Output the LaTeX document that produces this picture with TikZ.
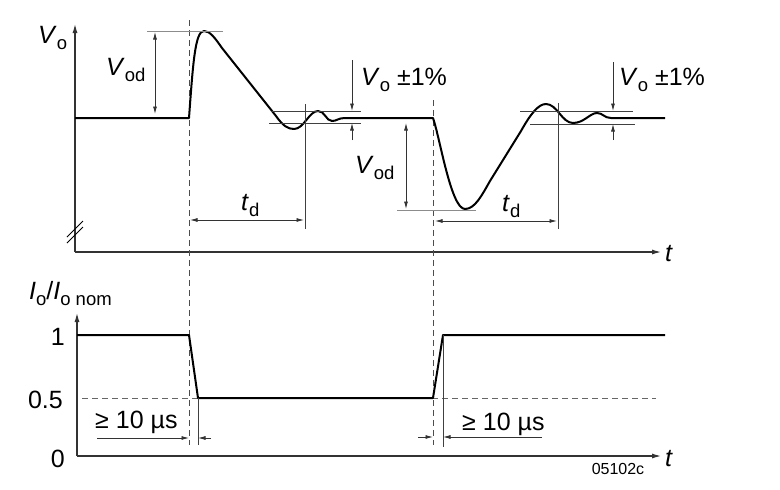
\documentclass[tikz,border=0pt]{standalone}
\usepackage{fontspec}
\setmainfont{Liberation Sans}
\usetikzlibrary{arrows.meta}
\newcommand\mysub[1]{\raisebox{-6.5pt}{\fontsize{18.5}{18}\selectfont #1}}
\begin{document}
\begin{tikzpicture}[x=1pt,y=-1pt,
  lbl/.style={inner sep=0pt,font=\fontsize{25}{28}\selectfont},
  small/.style={inner sep=0pt,font=\fontsize{16}{18}\selectfont},
  axis/.style={line width=1.1pt,draw=black!80,-{Latex[length=9pt,width=5pt]}},
  sig/.style={line width=2pt,line join=round},
  thinln/.style={line width=0.8pt,draw=black!75},
  guide/.style={line width=1pt,draw=black!45},
  dashln/.style={line width=0.9pt,draw=black!70,dash pattern=on 6pt off 4pt},
  dim/.style={line width=0.8pt,draw=black!80,{Latex[length=7.5pt,width=4pt]}-{Latex[length=7.5pt,width=4pt]}},
  oarr/.style={line width=0.8pt,draw=black!80,-{Latex[length=7.5pt,width=4pt]}}]
\useasboundingbox (0,0) rectangle (780,490);
% ===== upper plot axes
\coordinate (uo) at (75,252);
\coordinate (uy) at (75,24);
\coordinate (ux) at (661,252);
\draw[axis] (uo) -- (uy);
\draw[axis] (uo) -- (ux);
\node[lbl,anchor=base west] (vo) at (38,43) {\textit{V}\mysub{o}};
\node[lbl,anchor=base west] (tu) at (665,261) {\textit{t}};
% break marks
\draw[line width=0.9pt] (67,237) -- (83,221);
\draw[line width=0.9pt] (67,243) -- (83,227);
% dashed verticals
\draw[dashln] (189,20) -- (189,445);
\draw[dashln] (433,100) -- (433,445);
% ===== signal
\draw[sig] (75,118) -- (189,118)
  .. controls (193,64) and (195,31) .. (204,31)
  .. controls (210,31) and (215,38) .. (222,48)
  -- (276,116)
  .. controls (283,126) and (288,129) .. (294,129)
  .. controls (304,129) and (309,111) .. (318,111)
  .. controls (325,111) and (326,121) .. (332,121)
  .. controls (337,121) and (338,118) .. (345,118)
  -- (433,118)
  .. controls (440,138) and (451,209) .. (465,209)
  .. controls (475,209) and (482,195) .. (490,181)
  -- (521,131)
  .. controls (530,115) and (538,104) .. (546,104)
  .. controls (557,104) and (562,123) .. (573,123)
  .. controls (584,123) and (590,113) .. (597,113)
  .. controls (603,113) and (604,118) .. (611,118)
  -- (665,118);
% Vod 1
\draw[guide] (147,31) -- (223,31);
\coordinate (va1) at (155,32);
\coordinate (vb1) at (155,114);
\draw[dim] (va1) -- (vb1);
\node[lbl,anchor=base west] (vod1) at (106,75) {\textit{V}\mysub{od}};
% tolerance 1
\draw[thinln] (271,111) -- (361,111);
\draw[thinln] (269,123) -- (361,123);
\draw[thinln] (305,104) -- (305,229);
\coordinate (t1a) at (352,60);
\coordinate (t1b) at (352,111);
\coordinate (t1c) at (352,140);
\coordinate (t1d) at (352,123);
\draw[oarr] (t1a) -- (t1b);
\draw[oarr] (t1c) -- (t1d);
\node[lbl,anchor=base west] (tol1) at (361,85) {\textit{V}\mysub{o} ±1\%};
% td 1
\coordinate (td1a) at (190,220);
\coordinate (td1b) at (304,220);
\draw[dim] (td1a) -- (td1b);
\node[lbl,anchor=base west] (td1) at (241,210) {\textit{t}\mysub{d}};
% Vod 2
\draw[guide] (397,210) -- (476,210);
\coordinate (va2) at (406,123);
\coordinate (vb2) at (406,209);
\draw[dim] (va2) -- (vb2);
\node[lbl,anchor=base west] (vod2) at (355,173) {\textit{V}\mysub{od}};
% tolerance 2
\draw[thinln] (520,111) -- (633,111);
\draw[thinln] (530,124) -- (635,124);
\draw[thinln] (558,103) -- (558,229);
\coordinate (t2a) at (613,62);
\coordinate (t2b) at (613,111);
\coordinate (t2c) at (613,140);
\coordinate (t2d) at (613,124);
\draw[oarr] (t2a) -- (t2b);
\draw[oarr] (t2c) -- (t2d);
\node[lbl,anchor=base west] (tol2) at (619,85) {\textit{V}\mysub{o} ±1\%};
% td 2
\coordinate (td2a) at (435,221);
\coordinate (td2b) at (557,221);
\draw[dim] (td2a) -- (td2b);
\node[lbl,anchor=base west] (td2) at (502,211) {\textit{t}\mysub{d}};
% ===== lower plot
\coordinate (lo) at (77,456);
\coordinate (ly) at (77,313);
\coordinate (lx) at (661,456);
\draw[axis] (lo) -- (ly);
\draw[axis] (lo) -- (lx);
\node[lbl,anchor=base west] (tl) at (665,466) {\textit{t}};
\node[lbl,anchor=base west] (io) at (29,299) {\textit{I}\mysub{o}/\textit{I}\mysub{o nom}};
\node[lbl,anchor=base east] (l1) at (65,345) {1};
\node[lbl,anchor=base east] (l05) at (63,408) {0.5};
\node[lbl,anchor=base east] (l0) at (65,467) {0};
\draw[dashln,draw=black!60] (82,398) -- (656,398);
\draw[sig] (77,335) -- (189,335) -- (198,398) -- (433,398) -- (443,335) -- (665,335);
% >= 10 us left
\draw[thinln] (198,398) -- (198,445);
\coordinate (a1s) at (97,438);
\coordinate (a1e) at (189,438);
\coordinate (a2s) at (211,438);
\coordinate (a2e) at (198,438);
\draw[oarr] (a1s) -- (a1e);
\draw[oarr] (a2s) -- (a2e);
\node[lbl,anchor=base west] (us1) at (95,428) {≥ 10 µs};
% >= 10 us right
\draw[thinln] (443,335) -- (443,447);
\coordinate (b1s) at (418,437);
\coordinate (b1e) at (433,437);
\coordinate (b2s) at (542,437);
\coordinate (b2e) at (443,437);
\draw[oarr] (b1s) -- (b1e);
\draw[oarr] (b2s) -- (b2e);
\node[lbl,anchor=base west] (us2) at (462,430) {≥ 10 µs};
\node[small] (code) at (618,469) {05102c};
\end{tikzpicture}
\end{document}
